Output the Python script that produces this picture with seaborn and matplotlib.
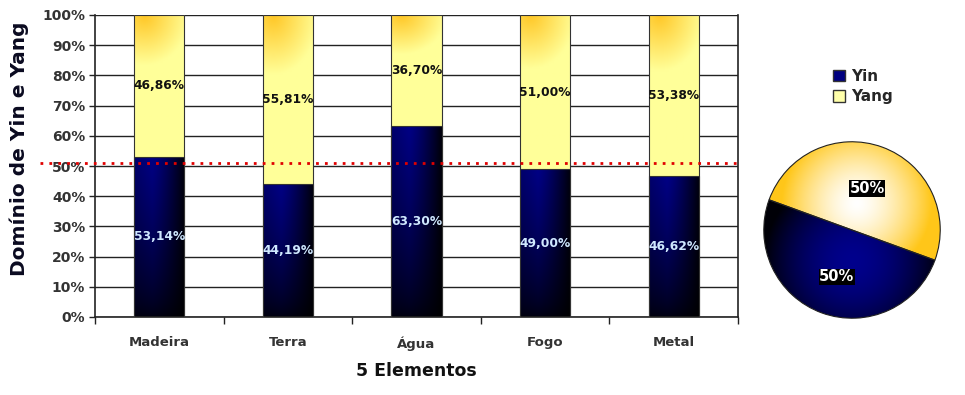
import numpy as np
import pandas as pd
import matplotlib
matplotlib.use("Agg")
import matplotlib.pyplot as plt
import seaborn as sns
from matplotlib.patches import Patch

categories = ["Madeira", "Terra", "Água", "Fogo", "Metal"]
yin = [53.14, 44.19, 63.30, 49.00, 46.62]
yang = [46.86, 55.81, 36.70, 51.00, 53.38]
yin_labels = ["53,14%", "44,19%", "63,30%", "49,00%", "46,62%"]
yang_labels = ["46,86%", "55,81%", "36,70%", "51,00%", "53,38%"]
pie_labels = ["Yin", "Yang"]
pie_values = [50, 50]
pie_texts = ["50%", "50%"]
ref_line = 51
yticks = list(range(0, 101, 10))

sns.set_theme(style="white")
plt.rcParams['font.family'] = ['DejaVu Sans']

fig = plt.figure(figsize=(9.65, 3.95), dpi=100)
ax = fig.add_axes([95/965, 1-317/395, 643/965, 302/395])

df = pd.DataFrame({"cat": categories, "yin": yin,
                   "total": [a + b for a, b in zip(yin, yang)]})

sns.barplot(data=df, x="cat", y="total", color="#ffff99", width=0.39,
            edgecolor="#333333", linewidth=0.8, ax=ax, zorder=2)
n_yang = len(ax.patches)
sns.barplot(data=df, x="cat", y="yin", color="#000080", width=0.39,
            edgecolor="#333333", linewidth=0.8, ax=ax, zorder=3)
yang_patches = ax.patches[:n_yang]
yin_patches = ax.patches[n_yang:]

ax.set_xlim(-0.5, len(categories) - 0.5)
ax.set_ylim(0, 100)

# gradients
H, W = 100, 60
xx, yy = np.meshgrid(np.linspace(0, 1, W), np.linspace(0, 1, H))
navy = np.array([0.0, 0.0, 0.52])
fx = np.clip(1.0 - 0.92 * np.clip((xx - 0.35) / 0.65, 0, 1) ** 1.3, 0, 1)
fx = np.where(xx < 0.35, 0.8 + 0.2 * xx / 0.35, fx)
gy = 0.12 + 0.88 * yy ** 0.7  # yy: 0 bottom -> 1 top (origin lower)
yin_img = navy[None, None, :] * (fx * gy)[:, :, None]
yin_img = np.clip(yin_img, 0, 1)

orange = np.array([1.0, 0.78, 0.15])
light = np.array([1.0, 1.0, 0.6])
d = np.sqrt(((xx - 0.2) / 0.9) ** 2 + ((1 - yy) / 0.35) ** 2)
t = np.clip(d, 0, 1)[:, :, None]
yang_img = orange * (1 - t) + light * t

for i, (pa, pb) in enumerate(zip(yang_patches, yin_patches)):
    x0 = pb.get_x(); w = pb.get_width()
    top_yin = pb.get_y() + pb.get_height()
    im = ax.imshow(yin_img, extent=(x0, x0 + w, 0, top_yin), origin="lower",
                   aspect="auto", zorder=2.5, interpolation="bilinear")
    im.set_clip_path(pb)
    pb.set_facecolor("none")
    im2 = ax.imshow(yang_img, extent=(x0, x0 + w, top_yin, 100), origin="lower",
                    aspect="auto", zorder=1.5, interpolation="bilinear")
    im2.set_clip_path(pa)
    pa.set_facecolor("none")
    ax.text(i, top_yin / 2, yin_labels[i], ha="center", va="center",
            color="#cfe8ff", fontsize=8.8, fontweight="bold", zorder=5)
    ax.text(i, top_yin + yang[i] / 2, yang_labels[i], ha="center", va="center",
            color="#111111", fontsize=8.8, fontweight="bold", zorder=5)

ax.set_xlim(-0.5, len(categories) - 0.5)
ax.set_ylim(0, 100)

ax.set_yticks(yticks)
ax.set_yticklabels([f"{v}%" for v in yticks], fontsize=10, fontweight="bold",
                   color="#333333")
for y in yticks:
    ax.axhline(y, color="#222222", lw=1.0, zorder=1)
ax.set_xticks(range(len(categories)))
ax.set_xticklabels(categories, fontsize=9.5, fontweight="bold", color="#333333")
ax.set_xticks(np.arange(-0.5, len(categories), 1), minor=True)
ax.tick_params(axis="x", which="major", length=0, pad=14)
ax.tick_params(axis="x", which="minor", length=5, width=1, color="#222222",
               direction="out", bottom=True)
ax.tick_params(axis="y", length=4, width=1, color="#222222", direction="out",
               left=True, pad=3)
for s in ["left", "bottom", "right"]:
    ax.spines[s].set_visible(True)
    ax.spines[s].set_color("#222222")
    ax.spines[s].set_linewidth(1.2)
ax.spines["top"].set_visible(False)

ax.axhline(ref_line, xmin=-0.085, xmax=1, color="#e00000", lw=2,
           linestyle=(0, (1, 2.2)), zorder=6, clip_on=False)

ax.set_xlabel("5 Elementos", fontsize=12.5, fontweight="bold", color="#111111",
              labelpad=8)
ax.set_ylabel("Domínio de Yin e Yang", fontsize=14.5, fontweight="bold",
              color="#0a0a20")
ax.yaxis.set_label_coords(-66 / 643, (317 - 149) / 302)

# pie
pax = fig.add_axes([(852 - 90) / 965, 1 - (230 + 90) / 395, 180 / 965, 180 / 395])
wedges, _t, autot = pax.pie(pie_values, colors=["#000080", "#ffd23a"],
                            startangle=160, counterclock=True,
                            autopct=lambda p: "", pctdistance=0.5,
                            wedgeprops=dict(edgecolor="#222222", linewidth=0.8))
pax.set_xlim(-1.02, 1.02)
pax.set_ylim(-1.02, 1.02)
pax.set_aspect("equal")

N = 200
px, py = np.meshgrid(np.linspace(-1, 1, N), np.linspace(-1, 1, N))
dy = np.sqrt((px - 0.05) ** 2 + (py - 0.3) ** 2)
ty = np.clip(dy / 0.85, 0, 1)[:, :, None]
yang_pie = np.array([1, 1, 1]) * (1 - ty ** 1.5) + np.array([1.0, 0.78, 0.1]) * ty ** 1.5
dn = np.sqrt((px + 0.0) ** 2 + (py + 0.35) ** 2)
tn = np.clip(dn / 1.0, 0, 1)[:, :, None]
yin_pie = np.array([0.0, 0.0, 0.55]) * (1 - tn ** 1.8) + np.array([0.0, 0.0, 0.03]) * tn ** 1.8
for wdg, img in zip(wedges, [yin_pie, yang_pie]):
    im = pax.imshow(np.clip(img, 0, 1), extent=(-1, 1, -1, 1), origin="lower",
                    zorder=0.5, interpolation="bilinear")
    im.set_clip_path(wdg)
    wdg.set_facecolor("none")
    wdg.set_zorder(1)
pax.set_xlim(-1.02, 1.02)
pax.set_ylim(-1.02, 1.02)
pax.axis("off")
for txt, s in zip(autot, pie_texts):
    x, y = txt.get_position()
    if y < 0:
        y -= 0.06
    txt.set_position((x, y))
    txt.set_text(s)
    txt.set_color("white")
    txt.set_fontweight("bold")
    txt.set_fontsize(10.5)
    txt.set_bbox(dict(facecolor="black", edgecolor="none", pad=0.5))
    txt.set_zorder(5)

handles = [Patch(facecolor="#000080", edgecolor="#333333"),
           Patch(facecolor="#ffffaa", edgecolor="#333333")]
fig.legend(handles, pie_labels, loc="upper left",
           bbox_to_anchor=(822 / 965, 1 - 58 / 395), frameon=False,
           prop=dict(size=11, weight="bold"), handlelength=0.8,
           handleheight=0.8, handletextpad=0.4, labelspacing=0.35,
           borderpad=0.2)

fig.savefig("out.png", dpi=100)
